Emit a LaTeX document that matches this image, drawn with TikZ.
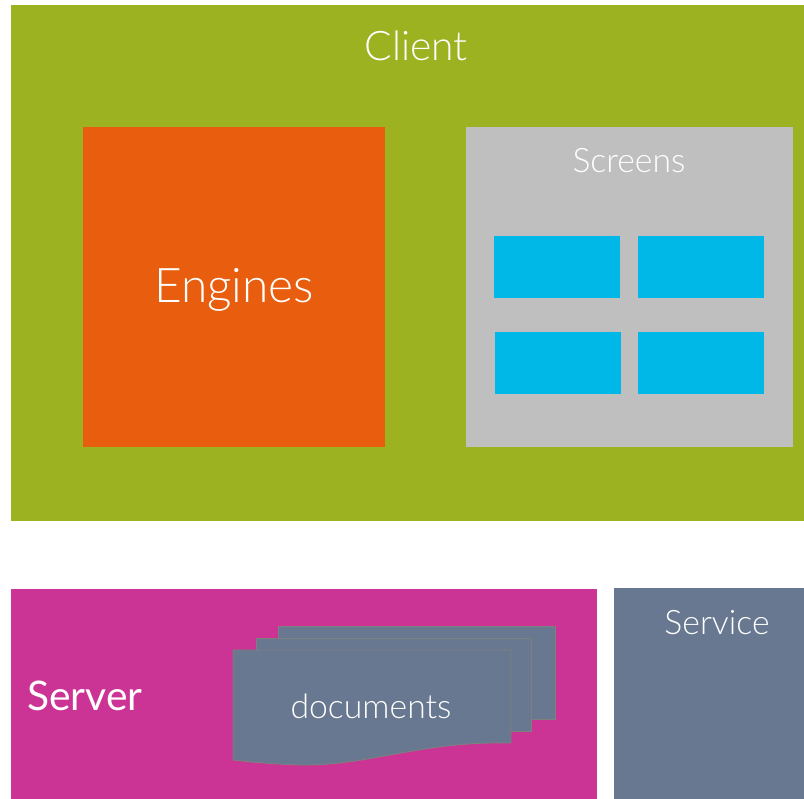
\documentclass[tikz,border=0pt]{standalone}
\usepackage{fontspec}
\usepackage{xcolor}
\usepackage{tikz}
\setmainfont{Lato}
\newfontfamily\lightfont{Lato Light}
\definecolor{clientgreen}{HTML}{9CB221}
\definecolor{engineorange}{HTML}{E95D0E}
\definecolor{screengrey}{HTML}{BFBFBF}
\definecolor{screenblue}{HTML}{00B8E8}
\definecolor{servermagenta}{HTML}{CB3494}
\definecolor{serviceslate}{HTML}{687890}
\definecolor{sheetline}{HTML}{7F7F7F}

\begin{document}
\begin{tikzpicture}[x=0.025cm,y=-0.025cm,
	box/.style={anchor=north west, inner sep=0pt, outer sep=0pt},
	screen/.style={box, fill=screenblue, minimum width=3.15cm, minimum height=1.55cm},
	label/.style={text=white, inner sep=0pt},
	sheet/.style={fill=serviceslate, draw=sheetline, line width=0.6pt}]
	\useasboundingbox (0,0) rectangle (804,799);
	% client side
	\node[box, fill=clientgreen, minimum width=19.825cm, minimum height=12.9cm] (client) at (11,5) {};
	\node[label, font=\lightfont\fontsize{29}{34}\selectfont] (clientlbl) at (416,46) {Client};
	\node[box, fill=engineorange, minimum width=7.55cm, minimum height=8cm] (engines) at (83,127) {};
	\node[label, font=\lightfont\fontsize{34}{40}\selectfont] (engineslbl) at (234,290) {Engines};
	\node[box, fill=screengrey, minimum width=8.175cm, minimum height=8cm] (screens) at (466,127) {};
	\node[label, font=\lightfont\fontsize{24}{29}\selectfont] (screenslbl) at (629,161) {Screens};
	\node[screen] (scr1) at (494,236) {};
	\node[screen] (scr2) at (638,236) {};
	\node[screen] (scr3) at (495,332) {};
	\node[screen] (scr4) at (638,332) {};
	% server side
	\node[box, fill=servermagenta, minimum width=14.65cm, minimum height=5.25cm] (server) at (11,589) {};
	\node[label, anchor=west, font=\fontsize{29}{34}\selectfont] (serverlbl) at (27,696) {Server};
	\node[box, fill=serviceslate, minimum width=4.75cm, minimum height=5.275cm] (service) at (614,588) {};
	\node[label, font=\lightfont\fontsize{24}{29}\selectfont] (servicelbl) at (717,623) {Service};
	% stacked documents
	\draw[sheet] (278,626) rectangle (555,719);
	\draw[sheet] (256,638) rectangle (531,731);
	\draw[sheet] (233,650) -- (511,650) -- (511,743)
		.. controls (420,741) and (370,766) .. (300,765)
		.. controls (270,764) and (250,762) .. (233,760) -- cycle;
	\node[label, font=\lightfont\fontsize{24}{29}\selectfont] (docslbl) at (371,706) {documents};
\end{tikzpicture}
\end{document}
